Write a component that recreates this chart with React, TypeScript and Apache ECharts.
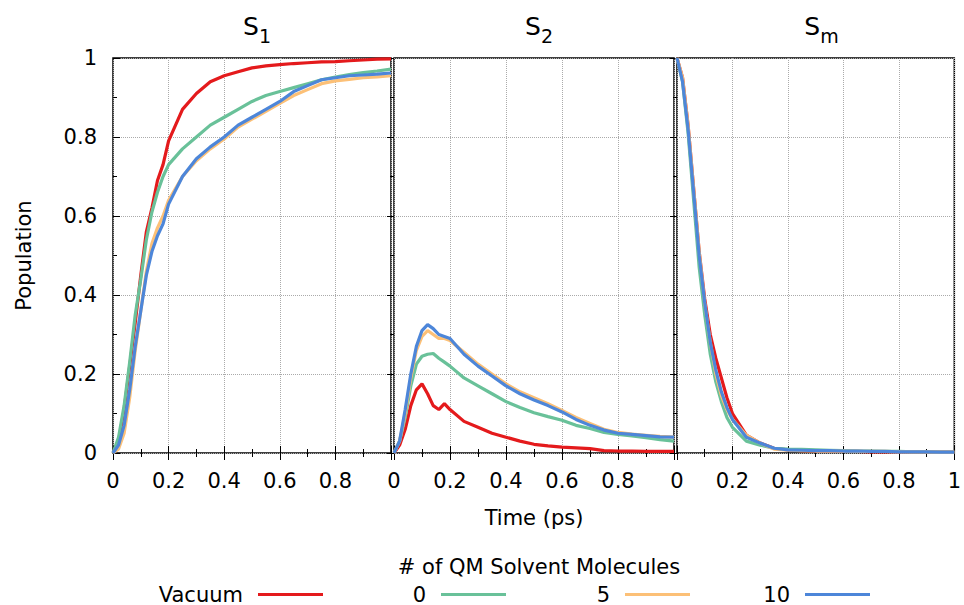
import React, { useEffect, useRef } from "react";
import * as echarts from "echarts";

// Time grid (ps)
const T = [0, 0.02, 0.04, 0.06, 0.08, 0.1, 0.12, 0.14, 0.16, 0.18, 0.2, 0.25, 0.3, 0.35, 0.4, 0.45, 0.5, 0.55, 0.6, 0.65, 0.7, 0.75, 0.8, 0.85, 0.9, 0.95, 1.0];

const seriesNames = ["Vacuum", "0", "5", "10"];
const colors = ["#e41a1c", "#69c199", "#fcc077", "#4d86d9"];
const panelTitles = ["1", "2", "m"];

// S1 population
const s1Vacuum = [0, 0.03, 0.11, 0.22, 0.33, 0.45, 0.56, 0.62, 0.69, 0.73, 0.79, 0.87, 0.91, 0.94, 0.955, 0.965, 0.975, 0.98, 0.983, 0.986, 0.988, 0.99, 0.991, 0.993, 0.995, 0.997, 0.998];
const s1Q0 = [0, 0.04, 0.12, 0.23, 0.35, 0.44, 0.54, 0.61, 0.66, 0.7, 0.73, 0.77, 0.8, 0.83, 0.85, 0.87, 0.89, 0.905, 0.915, 0.925, 0.935, 0.945, 0.952, 0.958, 0.963, 0.967, 0.972];
const s1Q5 = [0, 0.01, 0.05, 0.14, 0.26, 0.36, 0.46, 0.53, 0.57, 0.6, 0.64, 0.7, 0.74, 0.77, 0.795, 0.825, 0.845, 0.865, 0.885, 0.905, 0.92, 0.935, 0.942, 0.946, 0.95, 0.952, 0.955];
const s1Q10 = [0, 0.02, 0.07, 0.16, 0.27, 0.36, 0.45, 0.51, 0.55, 0.58, 0.63, 0.7, 0.745, 0.775, 0.8, 0.83, 0.85, 0.87, 0.89, 0.915, 0.93, 0.945, 0.95, 0.955, 0.957, 0.959, 0.962];

// S2 population
const s2Vacuum = [0, 0.02, 0.06, 0.12, 0.16, 0.175, 0.15, 0.12, 0.11, 0.125, 0.11, 0.08, 0.065, 0.05, 0.04, 0.03, 0.022, 0.018, 0.015, 0.013, 0.011, 0.006, 0.005, 0.005, 0.004, 0.004, 0.004];
const s2Q0 = [0, 0.03, 0.09, 0.17, 0.225, 0.245, 0.25, 0.252, 0.24, 0.23, 0.22, 0.19, 0.17, 0.15, 0.13, 0.115, 0.102, 0.092, 0.083, 0.07, 0.062, 0.052, 0.047, 0.043, 0.039, 0.034, 0.03];
const s2Q5 = [0, 0.03, 0.1, 0.19, 0.26, 0.295, 0.31, 0.3, 0.29, 0.29, 0.285, 0.255, 0.225, 0.2, 0.175, 0.155, 0.14, 0.125, 0.108, 0.09, 0.075, 0.06, 0.052, 0.048, 0.045, 0.042, 0.04];
const s2Q10 = [0, 0.03, 0.11, 0.2, 0.27, 0.31, 0.325, 0.315, 0.3, 0.295, 0.29, 0.25, 0.22, 0.195, 0.17, 0.15, 0.134, 0.12, 0.104, 0.085, 0.07, 0.058, 0.05, 0.047, 0.044, 0.041, 0.04];

// Sm population
const smVacuum = [1.0, 0.95, 0.83, 0.67, 0.51, 0.39, 0.3, 0.24, 0.19, 0.14, 0.1, 0.045, 0.025, 0.012, 0.008, 0.006, 0.005, 0.005, 0.004, 0.004, 0.003, 0.003, 0.003, 0.002, 0.002, 0.002, 0.002];
const smQ0 = [1.0, 0.94, 0.81, 0.64, 0.47, 0.35, 0.25, 0.18, 0.13, 0.09, 0.065, 0.03, 0.02, 0.012, 0.01, 0.009, 0.008, 0.007, 0.006, 0.005, 0.005, 0.004, 0.004, 0.003, 0.003, 0.002, 0.002];
const smQ5 = [1.0, 0.95, 0.83, 0.67, 0.51, 0.38, 0.28, 0.2, 0.145, 0.11, 0.085, 0.045, 0.025, 0.01, 0.007, 0.006, 0.005, 0.005, 0.005, 0.004, 0.004, 0.004, 0.003, 0.003, 0.003, 0.002, 0.002];
const smQ10 = [1.0, 0.94, 0.82, 0.66, 0.5, 0.38, 0.28, 0.21, 0.155, 0.115, 0.085, 0.04, 0.025, 0.012, 0.008, 0.007, 0.006, 0.006, 0.005, 0.005, 0.004, 0.004, 0.003, 0.003, 0.003, 0.002, 0.002];

const xTicks = [0, 0.2, 0.4, 0.6, 0.8, 1];
const yTicks = [0, 0.2, 0.4, 0.6, 0.8, 1];

const panels = [
  [s1Vacuum, s1Q0, s1Q5, s1Q10],
  [s2Vacuum, s2Q0, s2Q5, s2Q10],
  [smVacuum, smQ0, smQ5, smQ10],
];

const FONT = "DejaVu Sans";
const GRID_TOP = 58;
const GRID_H = 395;
const gridPos = [
  { left: 113, width: 278 },
  { left: 394, width: 280 },
  { left: 677, width: 279 },
];

const fmt = (v: number) => {
  const r = Math.round(v * 10) / 10;
  return xTicks.includes(r) || yTicks.includes(r) ? String(r) : "";
};

export default function App() {
  const ref = useRef<HTMLDivElement>(null);

  useEffect(() => {
    if (!ref.current) return;
    const chart = echarts.init(ref.current, null, { renderer: "svg" });

    const grids = gridPos.map((g) => ({
      left: g.left,
      width: g.width,
      top: GRID_TOP,
      height: GRID_H,
      show: true,
      borderColor: "#000",
      borderWidth: 1.5,
      backgroundColor: "transparent",
    }));

    const xAxes: any[] = [];
    const yAxes: any[] = [];
    gridPos.forEach((_, gi) => {
      xAxes.push({
        type: "value",
        gridIndex: gi,
        position: "bottom",
        min: 0,
        max: 1,
        interval: 0.2,
        axisLine: { show: false },
        axisTick: { show: true, inside: false, length: 7, lineStyle: { color: "#000", width: 1 } },
        minorTick: { show: true, splitNumber: 2, length: 4, lineStyle: { color: "#000", width: 1 } },
        splitLine: { show: true, lineStyle: { color: "#aaa", type: "dotted", width: 1 } },
        axisLabel: {
          show: true,
          margin: 17,
          fontSize: 21,
          fontFamily: FONT,
          color: "#000",
          formatter: (v: number) => (gi < 2 && v >= 0.99 ? "" : fmt(v)),
        },
        name: gi === 1 ? "Time (ps)" : "",
        nameLocation: "middle",
        nameGap: 54,
        nameTextStyle: { fontSize: 21, fontFamily: FONT, color: "#000" },
      });
      xAxes.push({
        type: "value",
        gridIndex: gi,
        position: "top",
        min: 0,
        max: 1,
        interval: 0.2,
        axisLine: { show: false },
        axisTick: { show: true, inside: false, length: 7, lineStyle: { color: "#000", width: 1 } },
        minorTick: { show: true, splitNumber: 2, length: 4, lineStyle: { color: "#000", width: 1 } },
        splitLine: { show: false },
        axisLabel: { show: false },
      });
      yAxes.push({
        type: "value",
        gridIndex: gi,
        position: "left",
        min: 0,
        max: 1,
        interval: 0.2,
        axisLine: { show: false },
        axisTick: { show: true, inside: gi === 0, length: 7, lineStyle: { color: "#000", width: 1 } },
        minorTick: { show: true, splitNumber: 2, length: 4, lineStyle: { color: "#000", width: 1 } },
        splitLine: { show: true, lineStyle: { color: "#aaa", type: "dotted", width: 1 } },
        axisLabel: {
          show: gi === 0,
          margin: 16,
          fontSize: 21,
          fontFamily: FONT,
          color: "#000",
          formatter: (v: number) => fmt(v),
        },
        name: gi === 0 ? "Population" : "",
        nameLocation: "middle",
        nameGap: 79,
        nameTextStyle: { fontSize: 21, fontFamily: FONT, color: "#000" },
      });
      yAxes.push({
        type: "value",
        gridIndex: gi,
        position: "right",
        min: 0,
        max: 1,
        interval: 0.2,
        axisLine: { show: false },
        axisTick: { show: gi === 2, inside: true, length: 7, lineStyle: { color: "#000", width: 1 } },
        minorTick: { show: gi === 2, splitNumber: 2, length: 4, lineStyle: { color: "#000", width: 1 } },
        splitLine: { show: false },
        axisLabel: { show: false },
      });
    });

    const series: any[] = [];
    panels.forEach((curves, gi) => {
      curves.forEach((vals, si) => {
        series.push({
          type: "line",
          name: seriesNames[si],
          xAxisIndex: gi * 2,
          yAxisIndex: gi * 2,
          data: T.map((t, i) => [t, vals[i]]),
          showSymbol: false,
          symbol: "none",
          smooth: false,
          lineStyle: { width: 3.2, color: colors[si] },
          itemStyle: { color: colors[si] },
          z: 2 + si,
        });
      });
    });

    const centers = gridPos.map((g) => g.left + g.width / 2);

    const titles: any[] = panelTitles.map((sub, i) => ({
      text: `{s|S}{b|${sub}}`,
      left: centers[i],
      top: 4,
      textAlign: "center",
      textStyle: {
        fontWeight: "normal",
        rich: {
          s: { fontSize: 25, fontFamily: FONT, fontWeight: "normal", color: "#000", verticalAlign: "bottom", lineHeight: 30 },
          b: { fontSize: 19, fontFamily: FONT, fontWeight: "normal", color: "#000", verticalAlign: "bottom", lineHeight: 22, padding: [0, 0, -6, 0] },
        },
      },
    }));
    titles.push({
      text: "# of QM Solvent Molecules",
      left: 534,
      top: 551,
      textAlign: "center",
      textStyle: { fontSize: 21, fontFamily: FONT, color: "#000", fontWeight: "normal" },
    });

    const legendRight = [323, 506, 690, 870];
    const legends = seriesNames.map((n, i) => ({
      data: [n],
      right: 964 - legendRight[i],
      top: 584,
      padding: 0,
      align: "right",
      orient: "horizontal",
      icon: "rect",
      itemWidth: 65,
      itemHeight: 3,
      selectedMode: false,
      textStyle: { fontSize: 21, fontFamily: FONT, color: "#000", padding: [0, 10, 0, 0] },
    }));

    chart.setOption({
      animation: false,
      backgroundColor: "#fff",
      title: titles,
      legend: legends,
      grid: grids,
      xAxis: xAxes,
      yAxis: yAxes,
      series,
    });

    return () => chart.dispose();
  }, []);

  return (
    <div
      ref={ref}
      style={{ position: "absolute", left: 0, top: 0, width: 964, height: 605 }}
    />
  );
}
